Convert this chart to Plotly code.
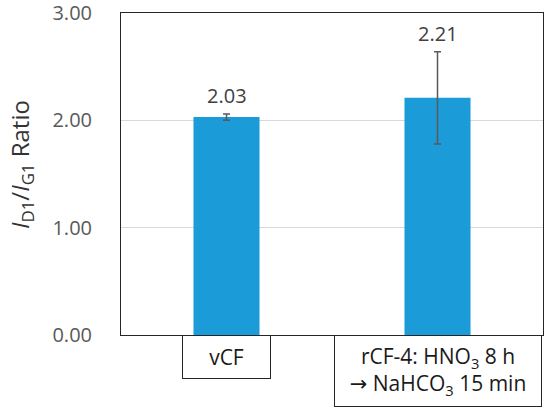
import plotly.graph_objects as go

# sample groups and measured I_D1/I_G1 ratios
categories = ['vCF', 'rCF-4']
category_labels = ['vCF',
                   'rCF-4: HNO<sub>3</sub> 8 h<br>'
                   '<span style="font-family:DejaVu Sans">→</span> NaHCO<sub>3</sub> 15 min']
ratios = [2.03, 2.21]
errors = [0.03, 0.43]
y_ticks = [0, 1, 2, 3]

font = 'Open Sans'

fig = go.Figure()
fig.add_trace(go.Bar(
    x=categories,
    y=ratios,
    marker=dict(color='#1b9bd7', line=dict(width=0)),
    error_y=dict(type='data', array=errors, visible=True,
                 color='#595959', thickness=1.5, width=3.5),
    hoverinfo='skip',
))

# value labels sit above the error bars
for c, v, e in zip(categories, ratios, errors):
    fig.add_annotation(x=c, y=v + e, text=f'{v:.2f}', showarrow=False,
                       yanchor='bottom', yshift=3,
                       font=dict(family=font, size=20, color='#404040'))

# boxed category labels under the axis
box_sizes = [(87, 42), (206, 70)]
for c, lab, (w, h) in zip(categories, category_labels, box_sizes):
    fig.add_annotation(x=c, xref='x', y=0, yref='paper', yanchor='top',
                       text=lab, showarrow=False, width=w, height=h,
                       bordercolor='#262626', borderwidth=1, borderpad=0,
                       font=dict(family=font, size=21, color='#1a1a1a'))

# y-axis title, rotated
fig.add_annotation(x=0, xref='paper', y=0.528, yref='paper', xshift=-100,
                   xanchor='center', yanchor='middle', textangle=-90,
                   text='<i>I</i><sub>D1</sub>/<i>I</i><sub>G1</sub> Ratio',
                   showarrow=False,
                   font=dict(family=font, size=24, color='#333333'))

fig.update_layout(
    width=550, height=413,
    margin=dict(l=121, r=7, t=13, b=78),
    paper_bgcolor='white', plot_bgcolor='white',
    bargap=0.687,
    showlegend=False,
    font=dict(family=font, size=20, color='#595959'),
)
fig.update_xaxes(showticklabels=False, showline=True, mirror=True,
                 linecolor='#262626', linewidth=1, showgrid=False,
                 automargin=False)
fig.update_yaxes(range=[0, 3], tickvals=y_ticks, tickformat='.2f',
                 showline=True, mirror=True, linecolor='#262626', linewidth=1,
                 showgrid=True, gridcolor='#d9d9d9', gridwidth=1,
                 zeroline=False, ticklabelstandoff=24, automargin=False,
                 ticklabeloverflow='allow',
                 tickfont=dict(family=font, size=20, color='#595959'))

fig.write_html('out.html', config={'displayModeBar': False},
               post_script="document.body.style.margin='0';")
